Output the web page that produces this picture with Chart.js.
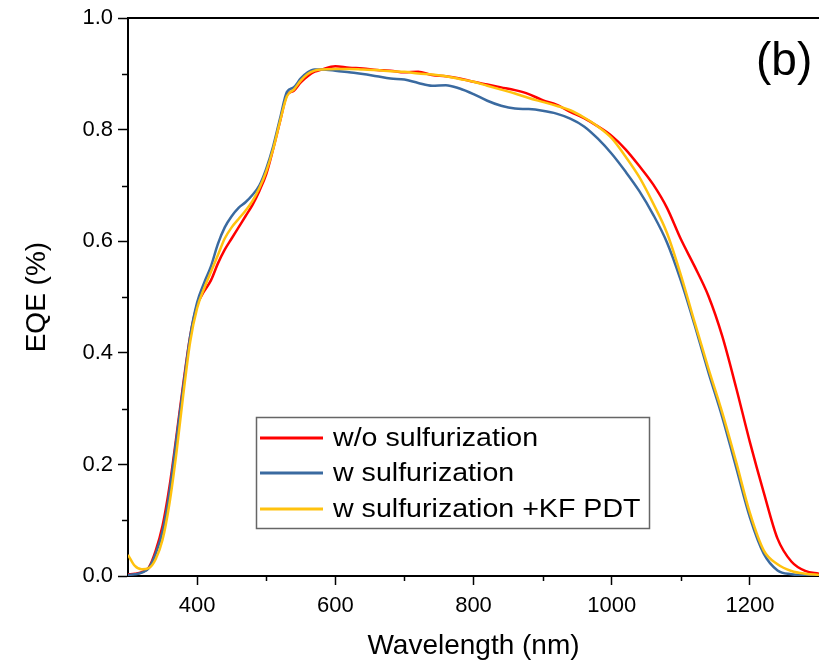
<!DOCTYPE html>
<html>
<head>
<meta charset="utf-8">
<script src="https://cdn.jsdelivr.net/npm/chart.js@4.4.0/dist/chart.umd.min.js"></script>
<style>
  html, body { margin: 0; padding: 0; background: #fff; }
  #wrap { width: 819px; height: 665px; }
</style>
</head>
<body>
<div id="wrap"><canvas id="graphEQE" width="819" height="665"></canvas></div>
<script>
// wavelengths (nm)
var wavelength = [300, 310, 320, 330, 340, 350, 360, 370, 380, 390, 400, 410, 420, 430, 440, 450, 460, 470, 480, 490,
    500, 510, 520, 530, 540, 550, 560, 570, 580, 600, 620, 640, 660, 680, 700, 720, 740, 760, 780, 800,
    820, 840, 860, 880, 900, 920, 940, 960, 980, 1000, 1020, 1040, 1060, 1080, 1100, 1120, 1140, 1160, 1180, 1200,
    1220, 1240, 1260, 1280, 1300];

var eqeSansSulfur = [0.003, 0.004, 0.007, 0.015, 0.045, 0.09, 0.16, 0.25, 0.345, 0.43, 0.485, 0.51, 0.53, 0.56, 0.585, 0.605, 0.625, 0.645, 0.665, 0.69,
    0.72, 0.765, 0.815, 0.862, 0.87, 0.885, 0.896, 0.904, 0.908, 0.914, 0.911, 0.910, 0.907, 0.906, 0.903, 0.904, 0.898, 0.896, 0.892, 0.886,
    0.881, 0.876, 0.871, 0.864, 0.853, 0.845, 0.832, 0.821, 0.806, 0.789, 0.765, 0.735, 0.702, 0.66, 0.604, 0.555, 0.502, 0.43, 0.338, 0.24,
    0.15, 0.067, 0.026, 0.009, 0.004];

var eqeSulfur = [0.002, 0.003, 0.006, 0.014, 0.04, 0.08, 0.15, 0.245, 0.34, 0.43, 0.49, 0.525, 0.555, 0.595, 0.625, 0.645, 0.66, 0.67, 0.683, 0.70,
    0.73, 0.77, 0.82, 0.868, 0.876, 0.892, 0.903, 0.908, 0.908, 0.906, 0.903, 0.900, 0.896, 0.892, 0.890, 0.884, 0.879, 0.880, 0.874, 0.864,
    0.852, 0.843, 0.838, 0.837, 0.834, 0.829, 0.82, 0.806, 0.784, 0.757, 0.725, 0.69, 0.648, 0.598, 0.53, 0.45, 0.365, 0.285, 0.195, 0.105,
    0.04, 0.01, 0.003, 0.001, 0.0];

var eqeSulfurKF = [0.038, 0.018, 0.012, 0.014, 0.03, 0.065, 0.13, 0.22, 0.325, 0.42, 0.48, 0.515, 0.545, 0.575, 0.605, 0.625, 0.64, 0.655, 0.672, 0.695,
    0.725, 0.765, 0.815, 0.86, 0.872, 0.888, 0.9, 0.906, 0.908, 0.909, 0.909, 0.908, 0.907, 0.905, 0.904, 0.901, 0.899, 0.896, 0.891, 0.886,
    0.879, 0.872, 0.865, 0.857, 0.85, 0.843, 0.835, 0.822, 0.806, 0.785, 0.752, 0.715, 0.668, 0.615, 0.54, 0.455, 0.372, 0.293, 0.205, 0.113,
    0.046, 0.021, 0.009, 0.004, 0.002];

var labelsSeries = ['w/o sulfurization', 'w sulfurization', 'w sulfurization +KF PDT'];
var couleurs = ['#ff0000', '#3a6aa0', '#ffc20e'];

var xTicks = [400, 600, 800, 1000, 1200];
var xMinorTicks = [500, 700, 900, 1100];
var yTicks = [0, 0.2, 0.4, 0.6, 0.8, 1.0];
var yMinorTicks = [0.1, 0.3, 0.5, 0.7, 0.9];

var police = '"Liberation Sans", Arial, sans-serif';

function points(valeurs) {
    return wavelength.map(function (w, i) { return { x: w, y: valeurs[i] }; });
}

// minor ticks, legend box and "(b)"
var decor = {
    id: 'decor',
    afterDraw: function (chart) {
        var ctx = chart.ctx;
        var sx = chart.scales.x, sy = chart.scales.y;
        var area = chart.chartArea;
        ctx.save();
        ctx.strokeStyle = '#000';
        ctx.lineWidth = 1.5;
        xMinorTicks.forEach(function (v) {
            var px = Math.round(sx.getPixelForValue(v)) + 0.5;
            ctx.beginPath(); ctx.moveTo(px, area.bottom); ctx.lineTo(px, area.bottom + 5); ctx.stroke();
        });
        yMinorTicks.forEach(function (v) {
            var py = Math.round(sy.getPixelForValue(v)) + 0.5;
            ctx.beginPath(); ctx.moveTo(area.left, py); ctx.lineTo(area.left - 6, py); ctx.stroke();
        });

        // legend
        var bx = 256, by = 417, bw = 393, bh = 111;
        ctx.strokeStyle = '#666';
        ctx.lineWidth = 1.5;
        ctx.strokeRect(bx + 0.5, by + 0.5, bw, bh);
        ctx.textBaseline = 'middle';
        ctx.fillStyle = '#000';
        var ys = [438, 473, 509];
        labelsSeries.forEach(function (lab, i) {
            ctx.strokeStyle = couleurs[i];
            ctx.lineWidth = 3;
            ctx.beginPath(); ctx.moveTo(260, ys[i]); ctx.lineTo(323, ys[i]); ctx.stroke();
            ctx.save();
            ctx.translate(333, ys[i] + 1);
            ctx.scale(1.1, 1);
            ctx.font = '26px ' + police;
            ctx.fillText(lab, 0, 0);
            ctx.restore();
        });

        ctx.font = '46px ' + police;
        ctx.textBaseline = 'alphabetic';
        ctx.fillText('(b)', 756, 75);
        ctx.restore();
    }
};

var ctx = document.getElementById('graphEQE').getContext('2d');

var graphique = new Chart(ctx, {
    type: 'line',
    data: {
        datasets: [
            { label: labelsSeries[0], data: points(eqeSansSulfur), borderColor: couleurs[0], order: 2 },
            { label: labelsSeries[1], data: points(eqeSulfur), borderColor: couleurs[1], order: 1 },
            { label: labelsSeries[2], data: points(eqeSulfurKF), borderColor: couleurs[2], order: 0 }
        ]
    },
    options: {
        responsive: false,
        animation: false,
        layout: { padding: { top: 18, right: 0, left: 0, bottom: 0 } },
        elements: {
            point: { radius: 0 },
            line: { borderWidth: 2.5, tension: 0.3, cubicInterpolationMode: 'monotone' }
        },
        plugins: {
            legend: { display: false },
            tooltip: { enabled: false }
        },
        scales: {
            x: {
                type: 'linear',
                min: 300,
                max: 1300,
                afterFit: function (s) { s.height = 89; },
                afterBuildTicks: function (s) { s.ticks = xTicks.map(function (v) { return { value: v }; }); },
                grid: { drawOnChartArea: false, tickLength: 9, tickColor: '#000', tickWidth: 1.5 },
                border: { color: '#000', width: 2 },
                ticks: {
                    color: '#000', padding: 8, font: { family: police, size: 22 }, maxRotation: 0,
                    callback: function (v) { return String(v); }
                },
                title: { display: true, text: 'Wavelength (nm)', color: '#000', font: { family: police, size: 28 }, padding: { top: 0, bottom: 2 } }
            },
            x2: {
                type: 'linear',
                position: 'top',
                min: 300,
                max: 1300,
                afterFit: function (s) { s.height = 0; },
                grid: { display: false },
                ticks: { display: false },
                border: { display: true, color: '#000', width: 2 }
            },
            y: {
                min: 0,
                max: 1.0,
                afterFit: function (s) { s.width = 128; },
                afterBuildTicks: function (s) { s.ticks = yTicks.map(function (v) { return { value: v }; }); },
                grid: { drawOnChartArea: false, tickLength: 10, tickColor: '#000', tickWidth: 1.5 },
                border: { color: '#000', width: 2 },
                ticks: {
                    color: '#000', padding: 5, font: { family: police, size: 22 },
                    callback: function (v) { return Number(v).toFixed(1); }
                },
                title: { display: true, text: 'EQE (%)', color: '#000', font: { family: police, size: 28 }, padding: { top: 20, bottom: 0 } }
            }
        }
    },
    plugins: [decor]
});
</script>
</body>
</html>
